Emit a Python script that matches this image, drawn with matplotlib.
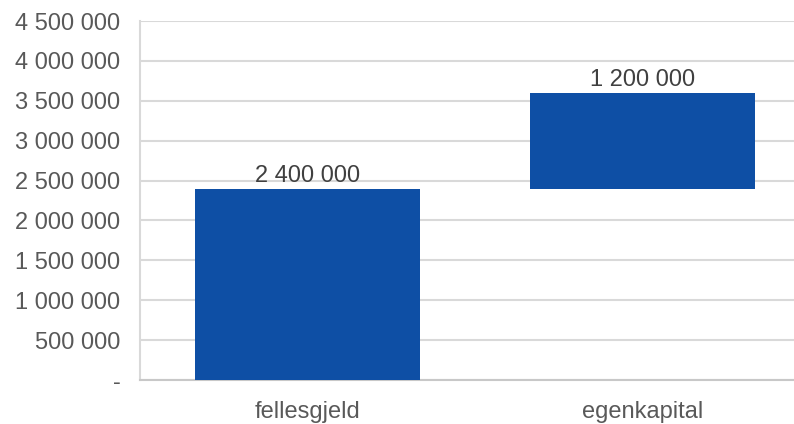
import matplotlib.pyplot as plt
from matplotlib.ticker import FuncFormatter

categories = ["fellesgjeld", "egenkapital"]
amounts = [2400000, 1200000]
bases = [0, 2400000]
y_ticks = list(range(0, 4500001, 500000))

plt.rcParams['font.family'] = ['Liberation Sans', 'DejaVu Sans']

fig = plt.figure(figsize=(7.94, 4.24), dpi=100)
# plot area runs past the right edge, so the gridlines reach the border
ax = fig.add_axes([140 / 794, 1 - 380 / 424, 654 / 794, 359 / 424])

x = range(len(categories))
bars = ax.bar(x, amounts, bottom=bases, width=0.672, color='#0E4FA5', zorder=3)

for bar, amt in zip(bars, amounts):
    top = bar.get_y() + bar.get_height()
    ax.annotate(f"{amt:,}".replace(",", " "), (bar.get_x() + bar.get_width() / 2, top),
                xytext=(0, 1), textcoords='offset points', ha='center', va='bottom',
                fontsize=17, color='#404040', zorder=4)


def fmt(v, pos):
    if v == 0:
        return "-"
    return f"{int(v):,}".replace(",", " ")


ax.set_ylim(0, 4500000)
ax.set_xlim(-0.5, 1.5 - 16 / 335)
ax.set_yticks(y_ticks)
ax.yaxis.set_major_formatter(FuncFormatter(fmt))
ax.set_xticks(list(x))
ax.set_xticklabels(categories)
ax.tick_params(axis='y', length=0, pad=14, labelsize=17, labelcolor='#595959')
ax.tick_params(axis='x', length=0, pad=15, labelsize=17, labelcolor='#595959')
ax.grid(axis='y', color='#D9D9D9', linewidth=1.5, zorder=0)
for side in ['top', 'right']:
    ax.spines[side].set_visible(False)
ax.spines['left'].set_color('#D9D9D9')
ax.spines['left'].set_linewidth(1.5)
ax.spines['bottom'].set_color('#C8C8C8')
ax.spines['bottom'].set_linewidth(1.5)

fig.savefig("out.png", dpi=100)
